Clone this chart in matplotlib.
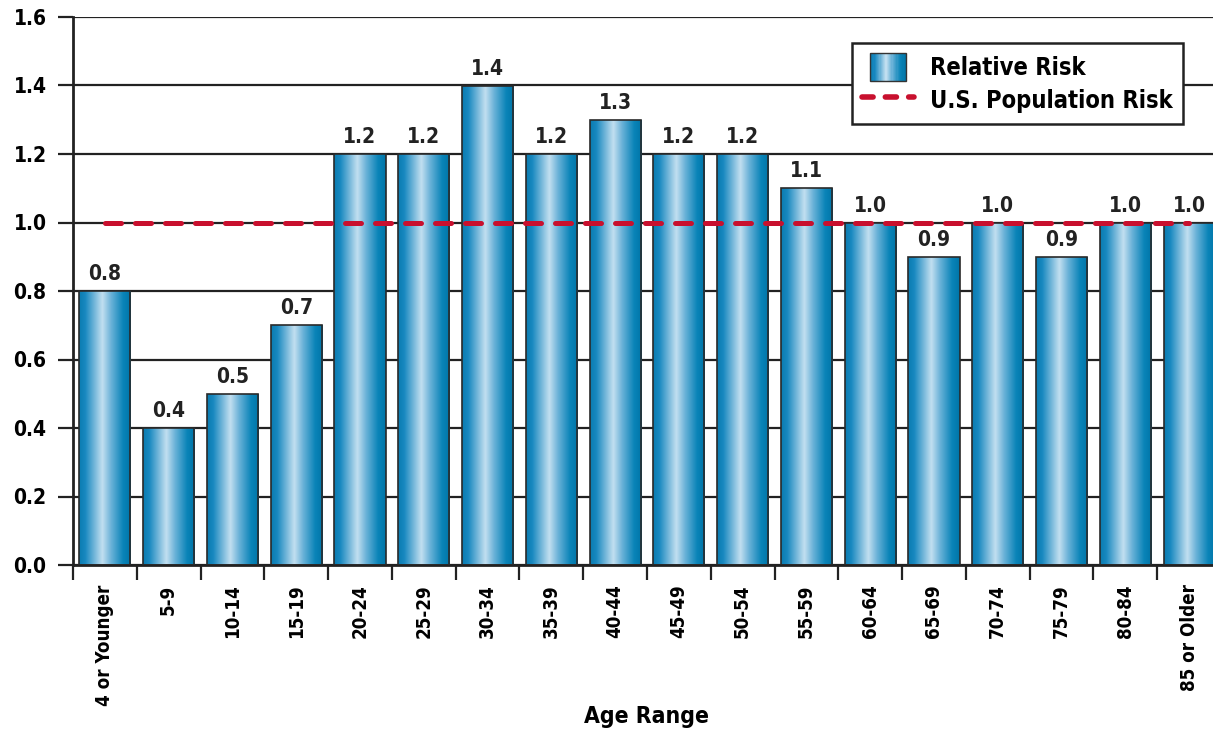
import matplotlib.pyplot as plt
import numpy as np
from matplotlib.colors import LinearSegmentedColormap
from matplotlib.legend_handler import HandlerBase
from matplotlib.lines import Line2D
from matplotlib.patches import Rectangle

plt.rcParams['font.family'] = ['DejaVu Sans']
plt.rcParams['font.stretch'] = 'condensed'
plt.rcParams['font.weight'] = 'bold'

age_ranges = ['4 or Younger', '5-9', '10-14', '15-19', '20-24', '25-29', '30-34',
              '35-39', '40-44', '45-49', '50-54', '55-59', '60-64', '65-69',
              '70-74', '75-79', '80-84', '85 or Older']
relative_risk = [0.8, 0.4, 0.5, 0.7, 1.2, 1.2, 1.4, 1.2, 1.3, 1.2, 1.2, 1.1,
                 1.0, 0.9, 1.0, 0.9, 1.0, 1.0]
us_population_risk = 1.0

bar_cmap = LinearSegmentedColormap.from_list('bar', [
    (0.0, '#0a7cb0'), (0.12, '#1888c0'), (0.45, '#c2dff0'),
    (0.62, '#6ab2d8'), (0.85, '#0a84b8'), (1.0, '#0075a8')])
red = '#c8102e'


class GradientHandler(HandlerBase):
    # gradient swatch, narrower than the handle box and centred in it
    def create_artists(self, legend, orig_handle, xdescent, ydescent,
                       width, height, fontsize, trans):
        w = width * 0.7
        left = -xdescent + (width - w) / 2
        n = 30
        arts = []
        for i in range(n):
            arts.append(Rectangle((left + w * i / n, -ydescent), w / n + 0.3,
                                  height, facecolor=bar_cmap(i / (n - 1)),
                                  edgecolor='none', transform=trans))
        arts.append(Rectangle((left, -ydescent), w, height, facecolor='none',
                              edgecolor='#333333', lw=1, transform=trans))
        return arts


fig = plt.figure(figsize=(12.13, 7.31), dpi=100)
ax = fig.add_axes([73 / 1213, 1 - 565 / 731, 1148 / 1213, 548 / 731])

x = np.arange(len(age_ranges))
grad = np.linspace(0, 1, 256).reshape(1, -1)
bars = ax.bar(x, relative_risk, width=0.8, facecolor='none', edgecolor='#2a2a2a',
              lw=1.2, zorder=3)
for b in bars:
    x0, y0 = b.get_x(), b.get_y()
    im = ax.imshow(grad, cmap=bar_cmap, aspect='auto', zorder=2.5,
                   extent=[x0, x0 + b.get_width(), y0, y0 + b.get_height()])
    im.set_clip_path(b)
    ax.text(x0 + b.get_width() / 2, b.get_height() + 0.02, f'{b.get_height():.1f}',
            ha='center', va='bottom', fontsize=15, fontweight='bold', color='#222222',
            zorder=5)

ax.plot([x[0], x[-1]], [us_population_risk] * 2, color=red, lw=3.6,
        dashes=(3.2, 2.8), solid_capstyle='round', dash_capstyle='round', zorder=4)

ax.set_xlim(-0.5, len(age_ranges) - 0.5)
ax.set_ylim(0, 1.6)
ax.set_yticks(np.arange(0, 1.61, 0.2))
ax.set_yticklabels([f'{v:.1f}' for v in np.arange(0, 1.61, 0.2)], fontsize=15)
ax.yaxis.grid(True, color='#222222', lw=1.6)
ax.set_axisbelow(True)
ax.tick_params(axis='y', length=11, width=1.6, color='#222222', pad=8)

ax.set_xticks(x)
ax.set_xticklabels(age_ranges, rotation=90, fontsize=13.5)
ax.set_xticks(np.arange(-0.5, len(age_ranges)), minor=True)
ax.tick_params(axis='x', which='major', length=0, pad=14)
ax.tick_params(axis='x', which='minor', length=11, width=1.6, color='#222222')
fig.text(646 / 1213, 1 - 716 / 731, 'Age Range', ha='center', va='center',
         fontsize=16.5, fontweight='bold')

for s in ['top', 'right']:
    ax.spines[s].set_visible(False)
for s in ['left', 'bottom']:
    ax.spines[s].set_linewidth(2)
    ax.spines[s].set_color('#222222')

handles = [Rectangle((0, 0), 1, 1),
           Line2D([], [], color=red, lw=4, dashes=(2.0, 2.2), dash_capstyle='round')]
leg = ax.legend(handles, ['Relative Risk', 'U.S. Population Risk'],
                handler_map={Rectangle: GradientHandler()},
                loc='upper right', bbox_to_anchor=(1183 / 1213, 1 - 43 / 731),
                bbox_transform=fig.transFigure, borderaxespad=0, fancybox=False,
                framealpha=1, edgecolor='#222222', prop={'size': 17, 'weight': 'bold'},
                handlelength=2.2, handleheight=1.45, borderpad=0.42, labelspacing=0.22,
                handletextpad=0.7)
leg.get_frame().set_linewidth(1.8)
leg.set_zorder(6)

fig.savefig('out.png', dpi=100)
